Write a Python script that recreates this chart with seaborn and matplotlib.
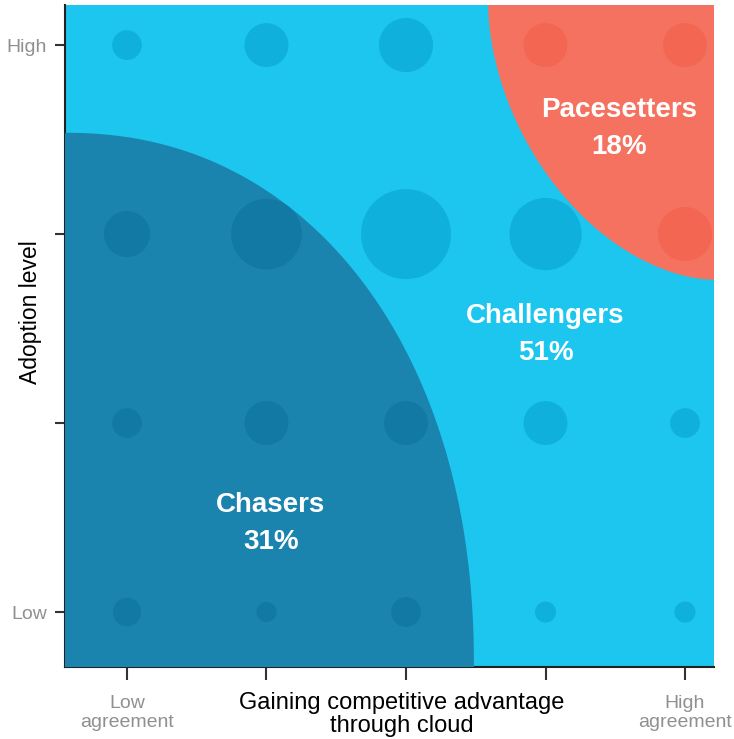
import numpy as np
import pandas as pd
import matplotlib.pyplot as plt
import seaborn as sns
from matplotlib.patches import Polygon

# grid of survey cells
x_levels = [1, 2, 3, 4, 5]
y_levels = [1, 2, 3, 4]
x_tick_labels = ["Low\nagreement", "", "", "", "High\nagreement"]
y_tick_labels = ["Low", "", "", "High"]

# respondents per cell (rows: Low -> High adoption, cols: Low -> High agreement)
counts = [
    [20, 10, 22, 11, 11],
    [22, 48, 48, 48, 22],
    [53, 125, 202, 130, 73],
    [22, 48, 73, 48, 48],
]

segments = ["Chasers", "Challengers", "Pacesetters"]
shares = [31, 51, 18]

BG = "#1CC6EE"
DARK = "#1A83AE"
RED = "#F4725F"
BUB_LIGHT = "#0FB0DC"
BUB_DARK = "#1279A4"
BUB_RED = "#F26652"


def build_frame():
    rows = []
    for j, y in enumerate(y_levels):
        for i, x in enumerate(x_levels):
            rows.append({"agree": x, "adopt": y, "n": counts[j][i]})
    return pd.DataFrame(rows)


def superellipse(cx, cy, a, b, n, sx, sy):
    # quarter superellipse around a corner, in axes fraction
    t = np.linspace(0, np.pi / 2, 200)
    px = cx + sx * a * np.cos(t) ** (2 / n)
    py = cy + sy * b * np.sin(t) ** (2 / n)
    return np.vstack([[cx, cy], np.column_stack([px, py])])


def bubbles(ax, df, color, clip=None):
    vmax = df["n"].max()
    sns.scatterplot(data=df, x="agree", y="adopt", size="n", sizes=(0, 4199),
                    size_norm=(0, vmax), color=color, linewidth=0,
                    legend=False, ax=ax, zorder=4 if clip is not None else 2)
    coll = ax.collections[-1]
    if clip is not None:
        coll.set_clip_path(clip)


def main():
    df = build_frame()
    sns.set_style("white")
    plt.rcParams["font.family"] = ["Liberation Sans", "DejaVu Sans"]

    fig = plt.figure(figsize=(7.34, 7.39), dpi=100)
    ax = fig.add_axes([0.0886, 0.0974, 0.8842, 0.8958])
    ax.set_facecolor(BG)

    # base bubbles over the challenger background
    bubbles(ax, df, BUB_LIGHT)

    chasers = Polygon(superellipse(0.0, 0.0, 0.630, 0.807, 2.15, 1, 1),
                      closed=True, transform=ax.transAxes,
                      facecolor=DARK, edgecolor="none", zorder=3)
    ax.add_patch(chasers)
    bubbles(ax, df, BUB_DARK, clip=chasers)

    pacers = Polygon(superellipse(1.0, 1.0, 0.348, 0.415, 1.8, -1, -1),
                     closed=True, transform=ax.transAxes,
                     facecolor=RED, edgecolor="none", zorder=3)
    ax.add_patch(pacers)
    bubbles(ax, df, BUB_RED, clip=pacers)

    ax.set_xlim(0.556, 5.208)
    ax.set_ylim(0.709, 4.212)

    label_pos = {"Chasers": (2.03, 1.47), "Challengers": (4.0, 2.47),
                 "Pacesetters": (4.53, 3.56)}
    for name, pct in zip(segments, shares):
        lx, ly = label_pos[name]
        ax.text(lx, ly, f"{name}\n{pct}%", color="white", fontsize=20,
                fontweight="bold", ha="center", va="center",
                linespacing=1.55, zorder=6)

    ax.set_xticks(x_levels)
    ax.set_xticklabels(x_tick_labels)
    ax.set_yticks(y_levels)
    ax.set_yticklabels(y_tick_labels)
    for lab in ax.get_xticklabels() + ax.get_yticklabels():
        lab.set_color("#909090")
        lab.set_fontsize(14)
        lab.set_linespacing(1.15)
    ax.tick_params(axis="x", length=9, width=1.5, color="#333333",
                   direction="out", pad=11, bottom=True)
    ax.tick_params(axis="y", length=7, width=1.5, color="#333333",
                   direction="out", pad=6, left=True)

    for side in ["top", "right"]:
        ax.spines[side].set_visible(False)
    for side in ["left", "bottom"]:
        ax.spines[side].set_color("#222222")
        ax.spines[side].set_linewidth(1.5)

    ax.set_xlabel("Gaining competitive advantage\nthrough cloud", fontsize=17,
                  color="black", linespacing=1.1)
    ax.xaxis.set_label_coords(0.519, -0.037)
    ax.xaxis.label.set_va("top")
    ax.set_ylabel("Adoption level", fontsize=16.5, color="black")
    ax.yaxis.set_label_coords(-0.035, 0.536)

    fig.savefig("out.png", dpi=100)
    plt.close(fig)


if __name__ == "__main__":
    main()
